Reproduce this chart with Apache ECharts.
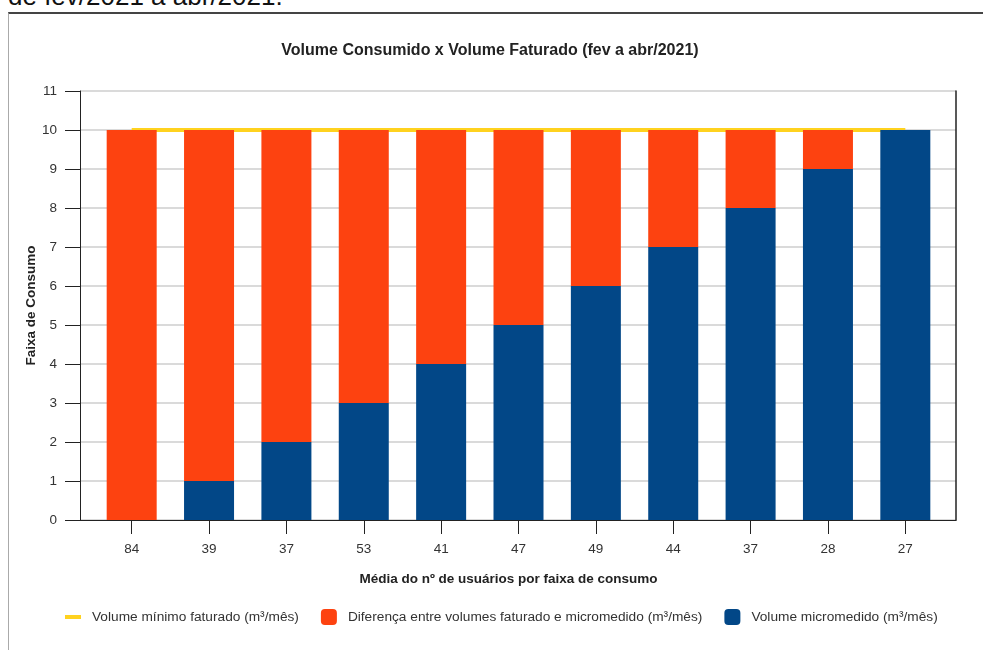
<!DOCTYPE html>
<html lang="pt">
<head>
<meta charset="UTF-8">
<title>Volume Consumido x Volume Faturado</title>
<script src="https://cdn.jsdelivr.net/npm/echarts@6/dist/echarts.min.js"></script>
<style>
    body { margin: 0; background: #fff; font-family: 'Liberation Sans', Arial, sans-serif; overflow: hidden; }
    .heading { position: absolute; left: 8px; top: -19px; font-size: 26px; color: #111; white-space: nowrap; }
    .frame { position: absolute; left: 8px; top: 12px; width: 1000px; height: 700px;
             border-top: 2px solid #444; border-left: 1px solid #aaa; }
    #chart { position: absolute; left: 0; top: 0; width: 983px; height: 650px; }
</style>
</head>
<body>
<div class="heading">de fev/2021 a abr/2021.</div>
<div class="frame"></div>
<div id="chart"></div>
<script>
    // data
    const usuarios = ['84', '39', '37', '53', '41', '47', '49', '44', '37', '28', '27'];
    const micromedido = [0, 1, 2, 3, 4, 5, 6, 7, 8, 9, 10];
    const diferenca = [10, 9, 8, 7, 6, 5, 4, 3, 2, 1, 0];
    const minimoFaturado = [10, 10, 10, 10, 10, 10, 10, 10, 10, 10, 10];

    const FONT = "'Liberation Sans', Arial, sans-serif";
    const chart = echarts.init(document.getElementById('chart'));

    const option = {
        animation: false,
        textStyle: { fontFamily: FONT },
        title: {
            text: 'Volume Consumido x Volume Faturado (fev a abr/2021)',
            left: 485, top: 38, textAlign: 'center',
            textStyle: { fontSize: 16, fontWeight: 'bold', color: '#222', fontFamily: FONT }
        },
        legend: {
            left: 60, top: 604,
            itemWidth: 16, itemHeight: 16, itemGap: 22,
            textStyle: { fontSize: 13.7, color: '#333', padding: [0, 0, 0, 6], fontFamily: FONT },
            data: [
                { name: 'Volume mínimo faturado (m³/mês)', icon: 'path://M0,0 M16,16 M0,6 L16,6 L16,10 L0,10 Z' },
                { name: 'Diferença entre volumes faturado e micromedido (m³/mês)', icon: 'roundRect' },
                { name: 'Volume micromedido (m³/mês)', icon: 'roundRect' }
            ]
        },
        grid: [
            { left: 80, right: 27, top: 91, bottom: 130 },
            { left: 93, right: 39, top: 91, bottom: 130 }
        ],
        xAxis: [
            {
                gridIndex: 0, type: 'value', min: 0, max: 1,
                axisLine: { show: true, lineStyle: { color: '#222', width: 1 } },
                axisTick: { show: false }, axisLabel: { show: false }, splitLine: { show: false }
            },
            {
                gridIndex: 1, type: 'category', data: usuarios,
                axisLine: { show: false },
                axisTick: { show: true, alignWithLabel: true, length: 14, lineStyle: { color: '#222' } },
                axisLabel: { fontSize: 13.5, color: '#333', margin: 22 },
                name: 'Média do nº de usuários por faixa de consumo',
                nameLocation: 'middle', nameGap: 52, nameMoveOverlap: false,
                nameTextStyle: { fontSize: 13.5, fontWeight: 'bold', color: '#222', padding: [0, 20, 0, 0] }
            }
        ],
        yAxis: [
            {
                gridIndex: 0, type: 'value', min: 0, max: 11, interval: 1,
                axisLine: { show: true, lineStyle: { color: '#222', width: 1 } },
                axisTick: { show: true, length: 15, lineStyle: { color: '#222' } },
                axisLabel: { fontSize: 13.5, color: '#333', margin: 23 },
                splitLine: { show: true, lineStyle: { color: '#dadada', width: 2 } },
                name: 'Faixa de Consumo',
                nameLocation: 'middle', nameGap: 42, nameMoveOverlap: false,
                nameTextStyle: { fontSize: 13.5, fontWeight: 'bold', color: '#222' }
            },
            {
                gridIndex: 0, type: 'value', min: 0, max: 11, position: 'right',
                axisLine: { show: true, lineStyle: { color: '#222', width: 1.5 } },
                axisTick: { show: false }, axisLabel: { show: false }, splitLine: { show: false }
            },
            {
                gridIndex: 1, type: 'value', min: 0, max: 11, show: false
            }
        ],
        series: [
            {
                name: 'Volume mínimo faturado (m³/mês)', type: 'line',
                xAxisIndex: 1, yAxisIndex: 2, data: minimoFaturado,
                symbol: 'none', z: 1,
                lineStyle: { color: '#ffd21f', width: 4 },
                itemStyle: { color: '#ffd21f' }
            },
            {
                name: 'Volume micromedido (m³/mês)', type: 'bar', stack: 'vol',
                xAxisIndex: 1, yAxisIndex: 2, data: micromedido,
                barWidth: 50, z: 2,
                itemStyle: { color: '#024787' }
            },
            {
                name: 'Diferença entre volumes faturado e micromedido (m³/mês)', type: 'bar', stack: 'vol',
                xAxisIndex: 1, yAxisIndex: 2, data: diferenca,
                barWidth: 50, z: 2,
                itemStyle: { color: '#fd4210' }
            }
        ]
    };

    chart.setOption(option);
</script>
</body>
</html>
